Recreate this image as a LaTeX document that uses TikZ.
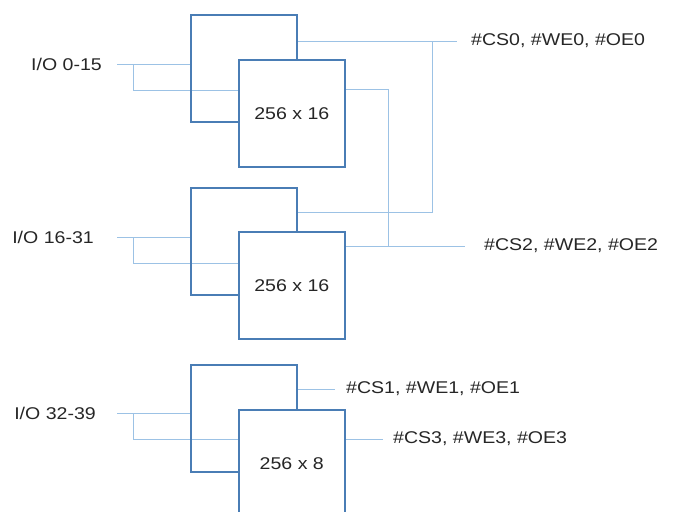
\documentclass[tikz,border=0pt]{standalone}
\usepackage{fontspec}
\setmainfont{Liberation Sans}[FakeStretch=1.15]
\usepackage{xcolor}
\usetikzlibrary{positioning, backgrounds}
\definecolor{chipblue}{HTML}{4A7DB5}
\definecolor{wireblue}{HTML}{9CC2E5}
\definecolor{txtgray}{HTML}{262626}

\begin{document}
\begin{tikzpicture}[
      x=1pt, y=-1pt,
      font=\fontsize{17}{20}\selectfont,
      chip/.style={draw=chipblue, line width=1.6pt, minimum width=106pt,
                   minimum height=107pt, anchor=north west, inner sep=0pt},
      chipf/.style={chip, fill=white, text=txtgray},
      lbl/.style={inner sep=2pt, text=txtgray},
      wire/.style={draw=wireblue, line width=0.9pt},
  ]
  \useasboundingbox (0,0) rectangle (674,511);
  \clip (0,0) rectangle (674,511);

  %% Memory banks (rear chip, front chip)
  \node[chip]  (rear0)  at (190,14)  {};
  \node[chipf] (front0) at (238,59)  {256 x 16};
  \node[chip]  (rear1)  at (190,187) {};
  \node[chipf] (front1) at (238,231) {256 x 16};
  \node[chip]  (rear2)  at (190,364) {};
  \node[chipf] (front2) at (238,409) {256 x 8};

  %% Data inputs
  \coordinate (in0) at (117,64);
  \coordinate (br0) at (133,90);
  \coordinate (in1) at (117,237);
  \coordinate (br1) at (133,263);
  \coordinate (in2) at (117,413);
  \coordinate (br2) at (133,439);
  \node[lbl, left=13pt of in0] (io0) {I/O 0-15};
  \node[lbl, left=21pt of in1] (io1) {I/O 16-31};
  \node[lbl, left=19pt of in2] (io2) {I/O 32-39};

  %% Control outputs
  \coordinate (cs0end) at (457,41);
  \coordinate (bus0)   at (432,212);
  \coordinate (cs2end) at (465,246);
  \coordinate (bus2)   at (388,89);
  \coordinate (cs1end) at (335,389);
  \coordinate (cs3end) at (383,439);
  \node[lbl, right=12pt of cs0end] (cs0) {\#CS0, \#WE0, \#OE0};
  \node[lbl, right=17pt of cs2end] (cs2) {\#CS2, \#WE2, \#OE2};
  \node[lbl, right=9pt of cs1end]  (cs1) {\#CS1, \#WE1, \#OE1};
  \node[lbl, right=8pt of cs3end]  (cs3) {\#CS3, \#WE3, \#OE3};

  %% Wires
  \begin{scope}[on background layer]
    \draw[wire] (in0) -- (rear0.west |- in0);
    \draw[wire] (in0 -| br0) -- (br0) -- (front0.west |- br0);
    \draw[wire] (in1) -- (rear1.west |- in1);
    \draw[wire] (in1 -| br1) -- (br1) -- (front1.west |- br1);
    \draw[wire] (in2) -- (rear2.west |- in2);
    \draw[wire] (in2 -| br2) -- (br2) -- (front2.west |- br2);
    \draw[wire] (rear0.east |- cs0end) -- (cs0end);
    \draw[wire] (rear1.east |- bus0) -- (bus0) -- (bus0 |- cs0end);
    \draw[wire] (front0.east |- bus2) -- (bus2) -- (bus2 |- cs2end);
    \draw[wire] (front1.east |- cs2end) -- (cs2end);
    \draw[wire] (rear2.east |- cs1end) -- (cs1end);
    \draw[wire] (front2.east |- cs3end) -- (cs3end);
  \end{scope}

\end{tikzpicture}
\end{document}
